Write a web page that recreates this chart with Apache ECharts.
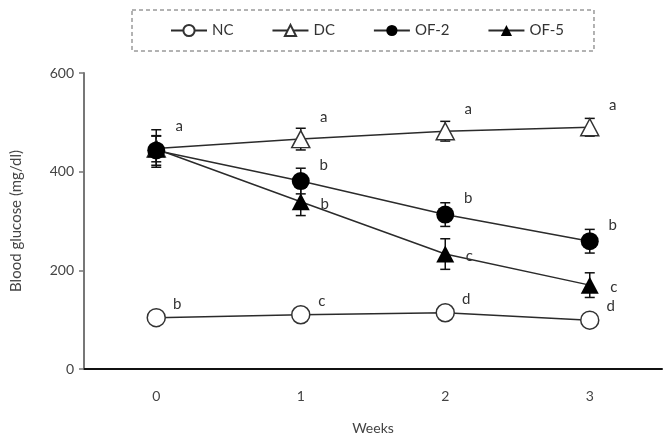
<!DOCTYPE html>
<html>
<head>
<meta charset="utf-8">
<script src="https://cdn.jsdelivr.net/npm/echarts@6/dist/echarts.min.js"></script>
<style>
  html, body { margin: 0; padding: 0; background: #fff; }
  #main { width: 671px; height: 433px; }
</style>
</head>
<body>
<div id="main"></div>
<script>
var weeks = ['0', '1', '2', '3'];
var yTicks = [0, 200, 400, 600];

var ncVals = [104, 110, 114, 99];
var ncErr = [5, 5, 5, 5];
var ncLetters = ['b', 'c', 'd', 'd'];

var dcVals = [447, 466, 482, 490];
var dcErr = [38, 22, 20, 18];
var dcLetters = ['a', 'a', 'a', 'a'];

var of2Vals = [443, 381, 313, 259];
var of2Err = [30, 26, 24, 24];
var of2Letters = ['', 'b', 'b', 'b'];

var of5Vals = [446, 339, 233, 170];
var of5Err = [26, 28, 31, 25];
var of5Letters = ['', 'b', 'c', 'c'];

var chart = echarts.init(document.getElementById('main'));

function lineSeries(name, vals, letters, symbol, fill, offset) {
    return {
        name: name,
        type: 'line',
        data: vals,
        symbol: symbol,
        symbolSize: symbol === 'triangle' ? [18, 17] : 18,
        showAllSymbol: true,
        z: 3,
        lineStyle: { color: '#2b2b2b', width: 1.5 },
        itemStyle: { color: fill, borderColor: '#333', borderWidth: fill === '#fff' ? 1.5 : 0 },
        label: {
            show: true,
            position: 'inside',
            offset: offset,
            color: '#333',
            fontFamily: 'Lato',
            fontSize: 15,
            formatter: function (p) { return letters[p.dataIndex]; }
        },
        emphasis: { disabled: true }
    };
}

function errSeries(vals, errs) {
    var data = vals.map(function (v, i) { return [i, v - errs[i], v + errs[i]]; });
    return {
        type: 'custom',
        z: 2,
        silent: true,
        data: data,
        renderItem: function (params, api) {
            var lo = api.coord([api.value(0), api.value(1)]);
            var hi = api.coord([api.value(0), api.value(2)]);
            var w = 5;
            var st = { stroke: '#111', lineWidth: 1.5 };
            return {
                type: 'group',
                children: [
                    { type: 'line', shape: { x1: lo[0], y1: lo[1], x2: hi[0], y2: hi[1] }, style: st },
                    { type: 'line', shape: { x1: lo[0] - w, y1: lo[1], x2: lo[0] + w, y2: lo[1] }, style: st },
                    { type: 'line', shape: { x1: hi[0] - w, y1: hi[1], x2: hi[0] + w, y2: hi[1] }, style: st }
                ]
            };
        }
    };
}

var option = {
    animation: false,
    textStyle: { fontFamily: 'Lato' },
    legend: {
        data: ['NC', 'DC', 'OF-2', 'OF-5'],
        left: 132,
        top: 10,
        padding: [13, 30, 13, 38],
        itemWidth: 36,
        itemHeight: 14,
        itemGap: 38,
        borderColor: '#666',
        borderWidth: 1,
        borderType: [4, 3],
        textStyle: { color: '#333', fontSize: 15, fontFamily: 'Lato' }
    },
    grid: { left: 84, right: 9, top: 73, bottom: 64, outerBoundsMode: 'none', containLabel: false },
    xAxis: {
        type: 'category',
        data: weeks,
        boundaryGap: true,
        name: 'Weeks',
        nameLocation: 'middle',
        nameGap: 52,
        nameTextStyle: { color: '#444', fontSize: 14 },
        axisLine: { lineStyle: { color: '#111', width: 2 } },
        axisTick: { show: false },
        axisLabel: { color: '#444', fontSize: 14, margin: 20 }
    },
    yAxis: {
        type: 'value',
        min: 0,
        max: 600,
        interval: 200,
        name: 'Blood glucose (mg/dl)',
        nameLocation: 'middle',
        nameGap: 60,
        nameTextStyle: { color: '#444', fontSize: 15 },
        axisLine: { show: true, lineStyle: { color: '#777', width: 2 } },
        axisTick: { show: true, length: 5, lineStyle: { color: '#777', width: 1.5 } },
        splitLine: { show: false },
        axisLabel: {
            color: '#444', fontSize: 14, margin: 10,
            formatter: function (v) { return yTicks.indexOf(v) >= 0 ? String(v) : ''; }
        }
    },
    series: [
        errSeries(ncVals, ncErr),
        errSeries(dcVals, dcErr),
        errSeries(of2Vals, of2Err),
        errSeries(of5Vals, of5Err),
        lineSeries('NC', ncVals, ncLetters, 'circle', '#fff', [21, -14]),
        lineSeries('DC', dcVals, dcLetters, 'triangle', '#fff', [23, -22]),
        lineSeries('OF-2', of2Vals, of2Letters, 'circle', '#000', [23, -16]),
        lineSeries('OF-5', of5Vals, of5Letters, 'triangle', '#000', [24, 2])
    ]
};

chart.setOption(option);
</script>
</body>
</html>
